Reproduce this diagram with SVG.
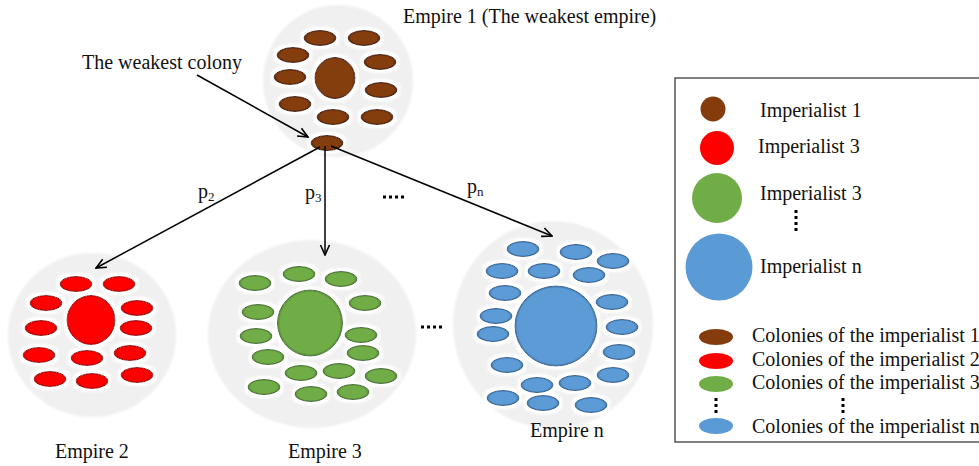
<svg xmlns="http://www.w3.org/2000/svg" width="979" height="466" viewBox="0 0 979 466">
<style>
text{font-family:"Liberation Serif","Times New Roman",serif;font-size:20px;fill:#111}
.sub{font-size:13px}
.bg{fill:#f0f0f0;filter:url(#soft)}
.c{filter:url(#glow)}
.br{fill:url(#gBr);stroke:#4a1f05;stroke-width:1}
.rd{fill:url(#gRd);stroke:#9e0000;stroke-width:1}
.gr{fill:url(#gGr);stroke:#45702a;stroke-width:1}
.bl{fill:url(#gBl);stroke:#2f6396;stroke-width:1}
.ln{stroke:#000;stroke-width:1.5;fill:none;marker-end:url(#arr)}
.dots{stroke:#000;stroke-width:3;stroke-dasharray:3 3;fill:none}
</style>
<defs>
<filter id="soft" x="-10%" y="-10%" width="120%" height="120%"><feGaussianBlur stdDeviation="1.2"/></filter>
<filter id="glow" x="-50%" y="-60%" width="200%" height="220%">
<feMorphology in="SourceAlpha" operator="dilate" radius="2.5" result="d"/>
<feGaussianBlur in="d" stdDeviation="1.3" result="b"/>
<feFlood flood-color="#ffffff"/>
<feComposite in2="b" operator="in" result="w"/>
<feMerge><feMergeNode in="w"/><feMergeNode in="SourceGraphic"/></feMerge>
</filter>
<radialGradient id="gBr"><stop offset="0.8" stop-color="#843c0c"/><stop offset="1" stop-color="#5a2606"/></radialGradient>
<radialGradient id="gRd"><stop offset="0.8" stop-color="#ff0000"/><stop offset="1" stop-color="#c80000"/></radialGradient>
<radialGradient id="gGr"><stop offset="0.8" stop-color="#70ad47"/><stop offset="1" stop-color="#548a35"/></radialGradient>
<radialGradient id="gBl"><stop offset="0.8" stop-color="#5b9bd5"/><stop offset="1" stop-color="#4178ad"/></radialGradient>
<radialGradient id="gBrL"><stop offset="0.92" stop-color="#843c0c"/><stop offset="1" stop-color="#5a2606"/></radialGradient>
<radialGradient id="gRdL"><stop offset="0.92" stop-color="#ff0000"/><stop offset="1" stop-color="#c80000"/></radialGradient>
<radialGradient id="gGrL"><stop offset="0.92" stop-color="#70ad47"/><stop offset="1" stop-color="#548a35"/></radialGradient>
<radialGradient id="gBlL"><stop offset="0.94" stop-color="#5b9bd5"/><stop offset="1" stop-color="#4178ad"/></radialGradient>
<marker id="arr" viewBox="0 0 12 12" refX="11" refY="6" markerWidth="12" markerHeight="12" markerUnits="userSpaceOnUse" orient="auto">
<path d="M1,1.5 L11,6 L1,10.5" stroke="#000" stroke-width="1.6" fill="none"/>
</marker>
</defs>

<g id="empire1">
<ellipse class="bg" cx="338" cy="81" rx="75" ry="76"/>
<g class="c br">
<ellipse cx="320" cy="38" rx="16" ry="7.5"/>
<ellipse cx="364" cy="38" rx="16" ry="7.5"/>
<ellipse cx="293" cy="55" rx="16" ry="7.5"/>
<ellipse cx="380" cy="62" rx="16" ry="7.5"/>
<ellipse cx="290" cy="77" rx="16" ry="7.5"/>
<ellipse cx="381" cy="90" rx="16" ry="7.5"/>
<ellipse cx="295" cy="104" rx="16" ry="7.5"/>
<ellipse cx="333" cy="117" rx="16" ry="7.5"/>
<ellipse cx="377" cy="117" rx="16" ry="7.5"/>
<ellipse cx="335" cy="78" rx="20" ry="20.5" fill="url(#gBrL)"/>
</g>
<text x="403" y="23">Empire 1 (The weakest empire)</text>
</g>

<g id="weakest-colony">
<ellipse class="c br" cx="327" cy="143" rx="16" ry="7.5"/>
<text x="82" y="69">The weakest colony</text>
</g>

<g id="empire2">
<ellipse class="bg" cx="92" cy="335" rx="84" ry="82"/>
<g class="c rd">
<ellipse cx="76" cy="284" rx="16" ry="7.5"/>
<ellipse cx="119" cy="284" rx="16" ry="7.5"/>
<ellipse cx="46" cy="303" rx="16" ry="7.5"/>
<ellipse cx="137" cy="308" rx="16" ry="7.5"/>
<ellipse cx="41" cy="328" rx="16" ry="7.5"/>
<ellipse cx="136" cy="328" rx="16" ry="7.5"/>
<ellipse cx="39" cy="355" rx="16" ry="7.5"/>
<ellipse cx="87" cy="358" rx="16" ry="7.5"/>
<ellipse cx="130" cy="353" rx="16" ry="7.5"/>
<ellipse cx="50" cy="379" rx="16" ry="7.5"/>
<ellipse cx="92" cy="381" rx="16" ry="7.5"/>
<ellipse cx="137" cy="375" rx="16" ry="7.5"/>
<ellipse cx="91" cy="320" rx="24" ry="24.5" fill="url(#gRdL)"/>
</g>
<text x="55" y="458">Empire 2</text>
</g>

<g id="empire3">
<ellipse class="bg" cx="312" cy="334" rx="104" ry="94"/>
<g class="c gr">
<ellipse cx="255" cy="283" rx="16" ry="7.5"/>
<ellipse cx="299" cy="274" rx="16" ry="7.5"/>
<ellipse cx="341" cy="279" rx="16" ry="7.5"/>
<ellipse cx="258" cy="312" rx="16" ry="7.5"/>
<ellipse cx="365" cy="303" rx="16" ry="7.5"/>
<ellipse cx="256" cy="336" rx="16" ry="7.5"/>
<ellipse cx="361" cy="335" rx="16" ry="7.5"/>
<ellipse cx="268" cy="357" rx="16" ry="7.5"/>
<ellipse cx="363" cy="353" rx="16" ry="7.5"/>
<ellipse cx="301" cy="373" rx="16" ry="7.5"/>
<ellipse cx="339" cy="371" rx="16" ry="7.5"/>
<ellipse cx="381" cy="376" rx="16" ry="7.5"/>
<ellipse cx="264" cy="387" rx="16" ry="7.5"/>
<ellipse cx="311" cy="394" rx="16" ry="7.5"/>
<ellipse cx="353" cy="392" rx="16" ry="7.5"/>
<ellipse cx="310" cy="323" rx="32.5" ry="33" fill="url(#gGrL)"/>
</g>
<text x="288" y="458">Empire 3</text>
</g>

<g id="empiren">
<ellipse class="bg" cx="553" cy="325" rx="100" ry="104"/>
<g class="c bl">
<ellipse cx="523" cy="249" rx="16" ry="7.5"/>
<ellipse cx="576" cy="252" rx="16" ry="7.5"/>
<ellipse cx="613" cy="261" rx="16" ry="7.5"/>
<ellipse cx="502" cy="271" rx="16" ry="7.5"/>
<ellipse cx="544" cy="271" rx="16" ry="7.5"/>
<ellipse cx="589" cy="275" rx="16" ry="7.5"/>
<ellipse cx="505" cy="293" rx="16" ry="7.5"/>
<ellipse cx="612" cy="302" rx="16" ry="7.5"/>
<ellipse cx="496" cy="316" rx="16" ry="7.5"/>
<ellipse cx="622" cy="327" rx="16" ry="7.5"/>
<ellipse cx="493" cy="334" rx="16" ry="7.5"/>
<ellipse cx="619" cy="352" rx="16" ry="7.5"/>
<ellipse cx="507" cy="365" rx="16" ry="7.5"/>
<ellipse cx="613" cy="375" rx="16" ry="7.5"/>
<ellipse cx="537" cy="385" rx="16" ry="7.5"/>
<ellipse cx="575" cy="383" rx="16" ry="7.5"/>
<ellipse cx="503" cy="398" rx="16" ry="7.5"/>
<ellipse cx="543" cy="403" rx="16" ry="7.5"/>
<ellipse cx="591" cy="405" rx="16" ry="7.5"/>
<ellipse cx="556" cy="326" rx="41" ry="40" fill="url(#gBlL)"/>
</g>
<text x="530" y="437">Empire n</text>
</g>

<g id="connectors">
<line class="ln" x1="197" y1="75" x2="308" y2="137"/>
<line class="ln" x1="320" y1="147" x2="96" y2="268"/>
<line class="ln" x1="325" y1="146" x2="325" y2="255"/>
<line class="ln" x1="331" y1="146" x2="552" y2="236"/>
</g>

<g id="labels">
<text x="198" y="198">p<tspan class="sub" dy="3">2</tspan></text>
<text x="305" y="199">p<tspan class="sub" dy="3">3</tspan></text>
<text x="467" y="193">p<tspan class="sub" dy="3">n</tspan></text>
<line class="dots" x1="383" y1="197" x2="407" y2="197"/>
<line class="dots" x1="421" y1="327" x2="445" y2="327"/>
</g>

<g id="legend">
<rect x="675" y="78" width="330" height="364" fill="#fff" stroke="#555" stroke-width="1.5"/>
<circle cx="713" cy="109" r="12.5" fill="#843c0c"/>
<text x="760" y="117">Imperialist 1</text>
<circle cx="717" cy="148" r="17" fill="#ff0000"/>
<text x="758" y="153">Imperialist 3</text>
<circle cx="717" cy="198" r="25" fill="#70ad47"/>
<text x="760" y="200">Imperialist 3</text>
<line x1="796" y1="210" x2="796" y2="234" stroke="#000" stroke-width="3" stroke-dasharray="3 3"/>
<circle cx="719" cy="267" r="33.5" fill="#5b9bd5"/>
<text x="760" y="273">Imperialist n</text>
<ellipse cx="716" cy="337" rx="17" ry="8" fill="#843c0c"/>
<text x="752" y="342">Colonies of the imperialist 1</text>
<ellipse cx="716" cy="361" rx="17" ry="8" fill="#ff0000"/>
<text x="752" y="366">Colonies of the imperialist 2</text>
<ellipse cx="716" cy="384" rx="17" ry="8" fill="#70ad47"/>
<text x="752" y="389">Colonies of the imperialist 3</text>
<line x1="716" y1="398" x2="716" y2="416" stroke="#000" stroke-width="3" stroke-dasharray="3 3"/>
<line x1="843" y1="398" x2="843" y2="416" stroke="#000" stroke-width="3" stroke-dasharray="3 3"/>
<ellipse cx="716" cy="426" rx="17" ry="8" fill="#5b9bd5"/>
<text x="752" y="433">Colonies of the imperialist n</text>
</g>
</svg>
